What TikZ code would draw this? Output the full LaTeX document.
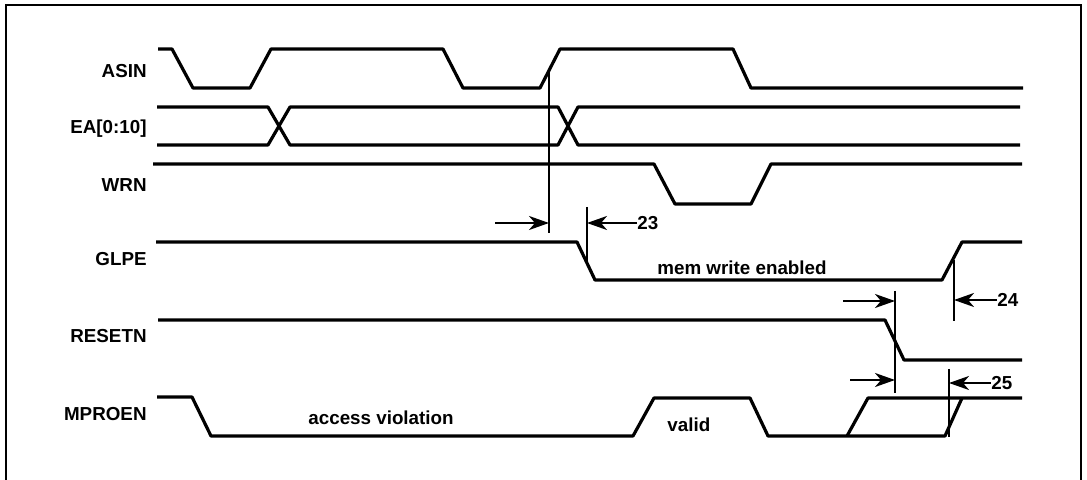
\documentclass[tikz,border=0pt]{standalone}
\usepackage{fontspec}
\setmainfont{Liberation Sans}
\usetikzlibrary{arrows.meta}
\begin{document}
\begin{tikzpicture}[x=0.5pt,y=-0.5pt,
  wave/.style={line width=1.6pt, line join=round},
  dimline/.style={line width=1pt},
  dimarrow/.style={line width=1pt,-{Stealth[length=10pt,width=7pt,inset=3pt]}},
  sig/.style={font=\fontsize{9.4}{11}\selectfont\bfseries, anchor=base east, inner sep=0pt},
  note/.style={font=\fontsize{9.4}{11}\selectfont\bfseries, anchor=base west, inner sep=0pt},
  num/.style={font=\fontsize{9.4}{11}\selectfont\bfseries, anchor=west, inner sep=0pt}]
\useasboundingbox (0,0) rectangle (1087,480);
% frame
\draw[line width=0.8pt] (6,480) -- (6,5) -- (1081,5) -- (1081,480);
% signal names
\node[sig] (lasin) at (147,78) {ASIN};
\node[sig] (lea) at (147,134) {EA[0:10]};
\node[sig] (lwrn) at (147,192) {WRN};
\node[sig] (lglpe) at (147,266) {GLPE};
\node[sig] (lresetn) at (147,343) {RESETN};
\node[sig] (lmproen) at (147,421) {MPROEN};
% ASIN
\draw[wave] (158,49) -- (172,49) -- (193,88) -- (250,88) -- (271,49) -- (443,49) -- (463,88)
  -- (540,88) -- (560,49) -- (733,49) -- (751,88) -- (1023,88);
% EA[0:10]
\draw[wave] (157,107) -- (268,107) -- (290,145) -- (558,145) -- (578,107) -- (1020,107);
\draw[wave] (157,145) -- (268,145) -- (290,107) -- (558,107) -- (578,145) -- (1020,145);
% WRN
\draw[wave] (153,164) -- (654,164) -- (675,204) -- (751,204) -- (771,164) -- (1022,164);
% GLPE
\draw[wave] (156,242) -- (577,242) -- (595,280) -- (942,280) -- (962,242) -- (1022,242);
\node[note] (mwe) at (657,275) {mem write enabled};
% RESETN
\draw[wave] (158,320) -- (885,320) -- (904,360) -- (1022,360);
% MPROEN
\draw[wave] (157,397) -- (192,397) -- (211,436) -- (633,436) -- (654,398) -- (750,398)
  -- (768,436) -- (945,436) -- (962,398);
\draw[wave] (847,436) -- (868,398) -- (1022,398);
\node[note] (acc) at (308,425) {access violation};
\node[note] (val) at (667,432) {valid};
% timing 23
\coordinate (v1t) at (549,69);
\coordinate (v1b) at (549,233);
\coordinate (v1m) at (549,223);
\coordinate (a23l) at (495,223);
\coordinate (v2t) at (587,207);
\coordinate (v2b) at (587,263);
\coordinate (v2m) at (587,223);
\draw[dimline] (v1t) -- (v1b);
\draw[dimline] (v2t) -- (v2b);
\draw[dimarrow] (a23l) -- (v1m);
\node[num] (n23) at (637,223) {23};
\draw[dimarrow] (n23.west) -- (v2m);
% timing 24
\coordinate (v3t) at (895,291);
\coordinate (v3b) at (895,393);
\coordinate (v3m) at (895,301);
\coordinate (a24l) at (843,301);
\coordinate (v4t) at (954,260);
\coordinate (v4b) at (954,321);
\coordinate (v4m) at (954,300);
\draw[dimline] (v3t) -- (v3b);
\draw[dimline] (v4t) -- (v4b);
\draw[dimarrow] (a24l) -- (v3m);
\node[num] (n24) at (997,300) {24};
\draw[dimarrow] (n24.west) -- (v4m);
% timing 25
\coordinate (v3n) at (895,380);
\coordinate (a25l) at (850,380);
\coordinate (v5t) at (949,369);
\coordinate (v5b) at (949,437);
\coordinate (v5m) at (949,383);
\draw[dimline] (v5t) -- (v5b);
\draw[dimarrow] (a25l) -- (v3n);
\node[num] (n25) at (991,383) {25};
\draw[dimarrow] (n25.west) -- (v5m);
\end{tikzpicture}
\end{document}
